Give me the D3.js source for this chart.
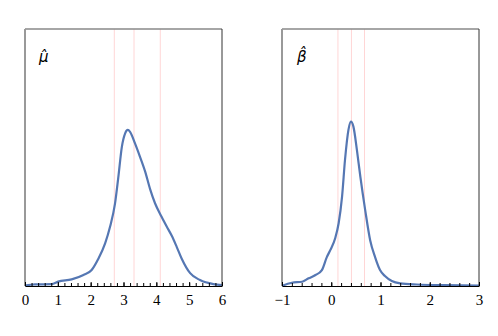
<!DOCTYPE html>
<html>
<head>
<meta charset="utf-8">
<script src="https://cdn.jsdelivr.net/npm/d3@7"></script>
<style>
  body { margin: 0; background: #fff; }
  svg { display: block; }
</style>
</head>
<body>
<div id="chart"></div>
<script>
// left panel: mu hat
const muX = [0, 0.30, 0.81, 1.01, 1.42, 1.78, 2.03, 2.23, 2.44, 2.59, 2.74, 2.84, 2.95, 3.05, 3.13, 3.20, 3.35, 3.50, 3.66, 3.81, 3.96, 4.16, 4.32, 4.47, 4.62, 4.77, 5.03, 5.33, 5.74, 6.0];
const muY = [0.001, 0.005, 0.006, 0.014, 0.021, 0.035, 0.051, 0.086, 0.136, 0.189, 0.262, 0.345, 0.444, 0.487, 0.498, 0.492, 0.455, 0.413, 0.365, 0.309, 0.264, 0.221, 0.189, 0.160, 0.125, 0.088, 0.041, 0.019, 0.006, 0.003];
const muLines = [2.72, 3.32, 4.12];
const muTicks = [0, 1, 2, 3, 4, 5, 6];

// right panel: beta hat
const betaX = [-1.00, -0.80, -0.59, -0.46, -0.32, -0.19, -0.09, -0.02, 0.08, 0.15, 0.22, 0.28, 0.35, 0.40, 0.45, 0.52, 0.59, 0.69, 0.79, 0.89, 0.99, 1.09, 1.23, 1.40, 1.74, 2.28, 3.00];
const betaY = [0.003, 0.033, 0.043, 0.077, 0.11, 0.16, 0.29, 0.36, 0.48, 0.63, 0.90, 1.27, 1.57, 1.65, 1.60, 1.37, 1.10, 0.76, 0.46, 0.29, 0.16, 0.10, 0.05, 0.027, 0.015, 0.008, 0.003];
const betaLines = [0.136, 0.41, 0.675];
const betaTicks = [-1, 0, 1, 2, 3];

const W = 498, H = 336;
const svg = d3.select('#chart').append('svg').attr('width', W).attr('height', H);

function panel(opts) {
  const top = 29, bottom = 286;
  const x = d3.scaleLinear().domain(opts.xDomain).range([opts.left, opts.right]);
  const y = d3.scaleLinear().domain([0, opts.yMax]).range([bottom, top]);
  const g = svg.append('g');

  // reference lines
  g.selectAll('line.ref').data(opts.lines).enter().append('line')
    .attr('x1', d => x(d)).attr('x2', d => x(d))
    .attr('y1', top).attr('y2', bottom)
    .attr('stroke', '#ffd6d6').attr('stroke-width', 1);

  // density curve
  const pts = opts.xs.map((v, i) => [v, opts.ys[i]]);
  g.append('path').datum(pts)
    .attr('fill', 'none')
    .attr('stroke', '#5577b3')
    .attr('stroke-width', 2.2)
    .attr('d', d3.line().x(d => x(d[0])).y(d => y(d[1])).curve(d3.curveMonotoneX));

  // frame
  g.append('line').attr('x1', opts.left).attr('x2', opts.right).attr('y1', top).attr('y2', top)
    .attr('stroke', '#888').attr('stroke-width', 1.5);
  g.append('line').attr('x1', opts.left).attr('x2', opts.left).attr('y1', top).attr('y2', bottom)
    .attr('stroke', '#999').attr('stroke-width', 2);
  g.append('line').attr('x1', opts.right).attr('x2', opts.right).attr('y1', top).attr('y2', bottom)
    .attr('stroke', '#333').attr('stroke-width', 1);

  // minor ticks
  const minor = d3.range(opts.xDomain[0], opts.xDomain[1] + 0.001, 0.2);
  g.append('g').attr('transform', `translate(0,${bottom})`)
    .call(d3.axisBottom(x).tickValues(minor).tickSize(-3).tickFormat(''))
    .call(a => a.select('.domain').remove())
    .call(a => a.selectAll('line').attr('stroke', '#000'));

  // major axis
  g.append('g').attr('transform', `translate(0,${bottom})`)
    .call(d3.axisBottom(x).tickValues(opts.ticks).tickSize(-4).tickSizeOuter(0).tickPadding(8).tickFormat(d3.format('d')))
    .call(a => a.select('.domain').attr('stroke', '#000'))
    .call(a => a.selectAll('text').attr('font-family', "'Liberation Serif', 'DejaVu Serif', serif").attr('font-size', 15).attr('fill', '#000'));

  // label
  g.append('text').attr('x', opts.labelX).attr('y', 62)
    .attr('font-family', "'DejaVu Sans', sans-serif").attr('font-style', 'italic')
    .attr('font-size', 15).attr('fill', '#000')
    .text(opts.label);
}

panel({ left: 25, right: 222, xDomain: [0, 6], yMax: 0.82, xs: muX, ys: muY, lines: muLines, ticks: muTicks, label: 'μ\u0302', labelX: 39 });
panel({ left: 282, right: 479, xDomain: [-1, 3], yMax: 2.58, xs: betaX, ys: betaY, lines: betaLines, ticks: betaTicks, label: 'β\u0302', labelX: 297 });
</script>
</body>
</html>
